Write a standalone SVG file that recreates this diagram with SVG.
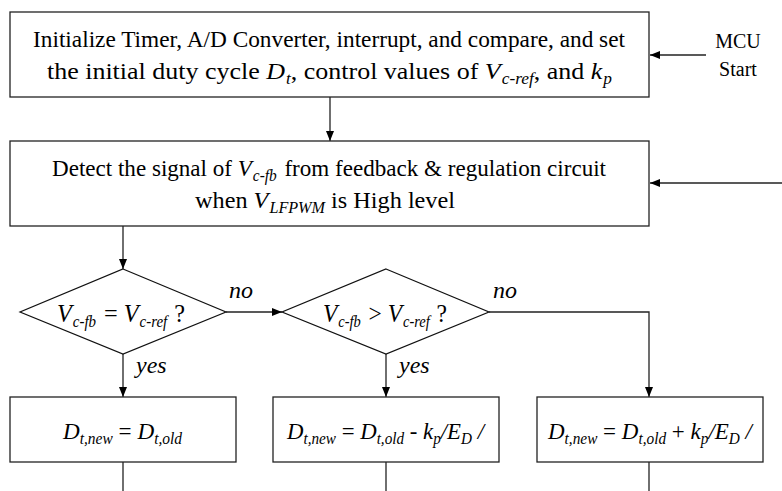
<svg xmlns="http://www.w3.org/2000/svg" width="782" height="491" viewBox="0 0 782 491">
<style>
.box{fill:#fff;stroke:#222;stroke-width:1.3}
.dia{fill:#fff;stroke:#111;stroke-width:1.2}
.t{font-family:'Liberation Serif','Times New Roman',Times,serif;font-size:24px;fill:#000}
.d{font-size:26px}
.s{font-family:'Liberation Serif','Times New Roman',Times,serif;font-size:20px;fill:#000}
.l{font-family:'Liberation Serif','Times New Roman',Times,serif;font-size:24px;font-style:italic;fill:#000}
.i{font-style:italic}
.sub{font-style:italic;font-size:16px}
.ln{fill:none;stroke:#222;stroke-width:1.3}
</style>
<defs>
<marker id="ar" viewBox="0 0 10 8" refX="10" refY="4" markerWidth="10" markerHeight="8" markerUnits="userSpaceOnUse" orient="auto">
<path d="M0,0 L10,4 L0,8 Z" fill="#000"/>
</marker>
</defs>
<g id="connectors">
<line class="ln" x1="706" y1="55" x2="650" y2="55" marker-end="url(#ar)"/>
<line class="ln" x1="330" y1="97" x2="330" y2="141" marker-end="url(#ar)"/>
<line class="ln" x1="782" y1="183" x2="650" y2="183" marker-end="url(#ar)"/>
<line class="ln" x1="123" y1="226" x2="123" y2="269" marker-end="url(#ar)"/>
<line class="ln" x1="226" y1="312" x2="282" y2="312" marker-end="url(#ar)"/>
<line class="ln" x1="123" y1="354" x2="123" y2="397" marker-end="url(#ar)"/>
<line class="ln" x1="386" y1="354" x2="386" y2="397" marker-end="url(#ar)"/>
<polyline class="ln" points="489,312 649,312 649,397" marker-end="url(#ar)"/>
<line class="ln" x1="123" y1="462" x2="123" y2="491"/>
<line class="ln" x1="386" y1="462" x2="386" y2="491"/>
<line class="ln" x1="649" y1="462" x2="649" y2="491"/>
<text class="l" x="241" y="298" text-anchor="middle">no</text>
<text class="l" x="505" y="298" text-anchor="middle">no</text>
<text class="l" x="136" y="373">yes</text>
<text class="l" x="399" y="373">yes</text>
</g>
<g id="mcu">
<text class="s" x="738" y="48" text-anchor="middle">MCU</text>
<text class="s" x="738" y="76" text-anchor="middle">Start</text>
</g>
<g id="init">
<rect class="box" x="10" y="12" width="639" height="85"/>
<text class="t" x="33" y="47" textLength="592" lengthAdjust="spacingAndGlyphs">Initialize Timer, A/D Converter, interrupt, and compare, and set</text>
<text class="t" x="47" y="79" textLength="565" lengthAdjust="spacingAndGlyphs">the initial duty cycle <tspan class="i">D</tspan><tspan class="sub" dx="1" dy="5">t</tspan><tspan dy="-5">, control values of </tspan><tspan class="i">V</tspan><tspan class="sub" dx="1" dy="5">c-ref</tspan><tspan dy="-5">, and </tspan><tspan class="i">k</tspan><tspan class="sub" dx="1" dy="5">p</tspan></text>
</g>
<g id="detect">
<rect class="box" x="10" y="141" width="639" height="85"/>
<text class="t" x="52" y="176" textLength="554" lengthAdjust="spacingAndGlyphs">Detect the signal of <tspan class="i">V</tspan><tspan class="sub" dx="1" dy="5">c-fb</tspan><tspan dx="2" dy="-5"> from feedback &amp; regulation circuit</tspan></text>
<text class="t" x="195" y="208" textLength="260" lengthAdjust="spacingAndGlyphs">when <tspan class="i">V</tspan><tspan class="sub" dx="1" dy="5">LFPWM</tspan><tspan dy="-5"> is High level</tspan></text>
</g>
<g id="dec1">
<polygon class="dia" points="123,269 226,312 123,354 20,312"/>
<text class="t d" x="57" y="322" textLength="128" lengthAdjust="spacingAndGlyphs"><tspan class="i">V</tspan><tspan class="sub" dx="1" dy="5">c-fb</tspan><tspan dx="2" dy="-5"> = </tspan><tspan class="i">V</tspan><tspan class="sub" dx="1" dy="5">c-ref</tspan><tspan dx="1" dy="-5"> ?</tspan></text>
</g>
<g id="dec2">
<polygon class="dia" points="386,269 489,312 386,354 282,312"/>
<text class="t d" x="323" y="322" textLength="124" lengthAdjust="spacingAndGlyphs"><tspan class="i">V</tspan><tspan class="sub" dx="1" dy="5">c-fb</tspan><tspan dx="2" dy="-5"> &gt; </tspan><tspan class="i">V</tspan><tspan class="sub" dx="1" dy="5">c-ref</tspan><tspan dx="1" dy="-5"> ?</tspan></text>
</g>
<g id="keep">
<rect class="box" x="10" y="397" width="226" height="65"/>
<text class="t" x="63" y="439" textLength="119" lengthAdjust="spacingAndGlyphs"><tspan class="i">D</tspan><tspan class="sub" dy="5">t,new</tspan><tspan dy="-5"> = </tspan><tspan class="i">D</tspan><tspan class="sub" dy="5">t,old</tspan></text>
</g>
<g id="dec">
<rect class="box" x="273" y="397" width="226" height="65"/>
<text class="t" x="287" y="439" textLength="197" lengthAdjust="spacingAndGlyphs"><tspan class="i">D</tspan><tspan class="sub" dy="5">t,new</tspan><tspan dy="-5"> = </tspan><tspan class="i">D</tspan><tspan class="sub" dy="5">t,old</tspan><tspan dy="-5"> - </tspan><tspan class="i">k</tspan><tspan class="sub" dy="5">p</tspan><tspan class="i" dy="-5">/E</tspan><tspan class="sub" dy="5">D</tspan><tspan class="i" dy="-5"> /</tspan></text>
</g>
<g id="inc">
<rect class="box" x="537" y="397" width="226" height="65"/>
<text class="t" x="548" y="439" textLength="204" lengthAdjust="spacingAndGlyphs"><tspan class="i">D</tspan><tspan class="sub" dy="5">t,new</tspan><tspan dy="-5"> = </tspan><tspan class="i">D</tspan><tspan class="sub" dy="5">t,old</tspan><tspan dy="-5"> + </tspan><tspan class="i">k</tspan><tspan class="sub" dy="5">p</tspan><tspan class="i" dy="-5">/E</tspan><tspan class="sub" dy="5">D</tspan><tspan class="i" dy="-5"> /</tspan></text>
</g>
</svg>
